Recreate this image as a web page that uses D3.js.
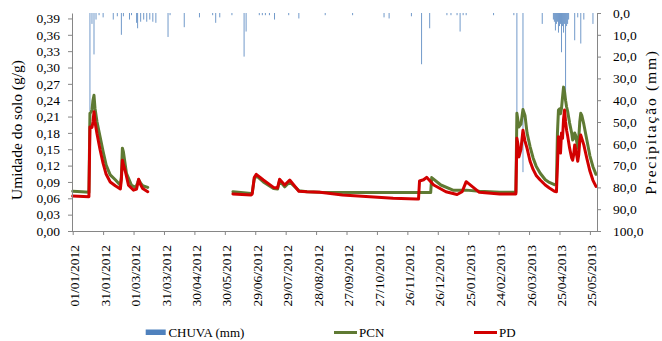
<!DOCTYPE html>
<html>
<head>
<meta charset="utf-8">
<script src="https://cdn.jsdelivr.net/npm/d3@7"></script>
<style>
  html, body { margin: 0; padding: 0; background: #fff; }
  svg { display: block; }
</style>
</head>
<body>
<svg id="chart" width="662" height="341"></svg>
<script>
// ---------- DATA ----------
const xTickLabels = ["01/01/2012","31/01/2012","01/03/2012","31/03/2012","30/04/2012","30/05/2012",
  "29/06/2012","29/07/2012","28/08/2012","27/09/2012","27/10/2012","26/11/2012","26/12/2012",
  "25/01/2013","24/02/2013","26/03/2013","25/04/2013","25/05/2013"];
const leftTicks = [0,0.03,0.06,0.09,0.12,0.15,0.18,0.21,0.24,0.27,0.30,0.33,0.36,0.39];
const rightTicks = [0,10,20,30,40,50,60,70,80,90,100];

// daily rainfall (mm)
const rain = [
  ["2012-01-18",45],["2012-01-20",5],["2012-01-22",19],["2012-01-24",3],["2012-01-27",1],
  ["2012-01-31",2],["2012-02-10",3],["2012-02-14",1.5],["2012-02-18",10],["2012-02-20",1.5],
  ["2012-02-26",3],["2012-02-28",1],["2012-03-04",4.5],["2012-03-05",7],["2012-03-08",4],
  ["2012-03-11",3],["2012-03-14",4],["2012-03-17",3],["2012-03-20",4],["2012-03-23",4.5],
  ["2012-04-04",11],["2012-04-06",1],["2012-04-20",6.5],["2012-05-05",2],["2012-05-18",1],
  ["2012-05-21",4.5],["2012-05-25",2],["2012-06-06",1],["2012-06-18",20],["2012-06-20",8.5],
  ["2012-07-03",1],["2012-07-06",1],["2012-07-09",1],["2012-07-13",1],["2012-07-18",3],
  ["2012-08-01",1],["2012-08-11",2.5],["2012-09-06",1],["2012-10-03",1],["2012-11-03",2],
  ["2012-11-08",2.5],["2012-11-30",1.5],["2012-12-10",23.5],["2012-12-18",7],
  ["2013-01-04",1],["2013-01-08",1],["2013-01-14",1],["2013-01-17",8.5],["2013-01-20",1],
  ["2013-01-23",1],["2013-02-19",1],["2013-03-11",1],["2013-03-14",50],["2013-03-20",73],
  ["2013-04-08",5],["2013-04-19",3],["2013-04-20",4],["2013-04-21",8],["2013-04-22",5],
  ["2013-04-23",4],["2013-04-24",9],["2013-04-25",6],["2013-04-26",5],["2013-04-27",18],
  ["2013-04-28",6],["2013-04-29",9],["2013-04-30",5],["2013-05-01",40],["2013-05-02",6],
  ["2013-05-03",5],["2013-05-04",3],["2013-05-10",12.5],["2013-05-13",2],["2013-05-16",14],
  ["2013-05-19",3],["2013-05-28",5]
];

// soil moisture PCN (g/g); null = no data
const pcn = [
  ["2012-01-01",0.073],["2012-01-10",0.072],["2012-01-17",0.071],["2012-01-18",0.216],
  ["2012-01-19",0.218],["2012-01-20",0.222],["2012-01-21",0.240],["2012-01-22",0.249],
  ["2012-01-23",0.225],["2012-01-25",0.200],["2012-01-28",0.173],["2012-01-31",0.146],
  ["2012-02-03",0.121],["2012-02-07",0.103],["2012-02-12",0.094],["2012-02-17",0.084],
  ["2012-02-18",0.100],["2012-02-19",0.152],["2012-02-20",0.145],["2012-02-23",0.106],
  ["2012-02-28",0.084],["2012-03-03",0.080],["2012-03-05",0.088],["2012-03-06",0.094],
  ["2012-03-08",0.088],["2012-03-10",0.083],["2012-03-15",0.080],
  ["2012-04-15",null],
  ["2012-06-07",0.072],["2012-06-25",0.069],["2012-06-26",0.070],["2012-06-28",0.095],
  ["2012-06-30",0.1015],["2012-07-07",0.090],["2012-07-17",0.078],["2012-07-21",0.077],
  ["2012-07-23",0.092],["2012-07-28",0.081],["2012-08-02",0.090],["2012-08-11",0.074],
  ["2012-08-19",0.072],["2012-09-01",0.071],["2012-10-15",0.0705],["2012-11-20",0.0705],
  ["2012-12-19",0.0705],["2012-12-20",0.098],["2012-12-29",0.0844],["2013-01-10",0.075],
  ["2013-01-23",0.075],["2013-02-05",0.073],["2013-02-25",0.071],["2013-03-13",0.071],
  ["2013-03-14",0.216],["2013-03-16",0.191],["2013-03-18",0.196],["2013-03-20",0.223],
  ["2013-03-22",0.212],["2013-03-24",0.180],["2013-03-27",0.155],["2013-03-30",0.134],
  ["2013-04-02",0.119],["2013-04-06",0.106],["2013-04-11",0.094],["2013-04-15",0.089],
  ["2013-04-20",0.085],["2013-04-22",0.087],["2013-04-23",0.180],["2013-04-24",0.222],
  ["2013-04-25",0.224],["2013-04-26",0.215],["2013-04-27",0.225],["2013-04-28",0.245],
  ["2013-04-29",0.264],["2013-04-30",0.255],["2013-05-01",0.240],["2013-05-02",0.228],
  ["2013-05-03",0.220],["2013-05-05",0.198],["2013-05-07",0.180],["2013-05-08",0.167],
  ["2013-05-09",0.170],["2013-05-10",0.180],["2013-05-11",0.175],["2013-05-13",0.152],
  ["2013-05-14",0.170],["2013-05-15",0.200],["2013-05-16",0.216],["2013-05-17",0.212],
  ["2013-05-19",0.196],["2013-05-22",0.167],["2013-05-25",0.138],["2013-05-28",0.118],
  ["2013-05-31",0.104]
];

// soil moisture PD (g/g); null = no data
const pd = [
  ["2012-01-01",0.064],["2012-01-17",0.063],["2012-01-18",0.191],["2012-01-20",0.190],
  ["2012-01-21",0.200],["2012-01-22",0.219],["2012-01-23",0.200],["2012-01-25",0.178],
  ["2012-01-28",0.149],["2012-01-31",0.124],["2012-02-03",0.104],["2012-02-07",0.090],
  ["2012-02-12",0.083],["2012-02-17",0.077],["2012-02-18",0.095],["2012-02-19",0.130],
  ["2012-02-20",0.122],["2012-02-22",0.109],["2012-02-25",0.084],["2012-03-01",0.075],
  ["2012-03-04",0.077],["2012-03-06",0.095],["2012-03-08",0.085],["2012-03-10",0.078],
  ["2012-03-15",0.072],
  ["2012-04-15",null],
  ["2012-06-07",0.068],["2012-06-25",0.066],["2012-06-26",0.068],["2012-06-28",0.098],
  ["2012-06-30",0.104],["2012-07-07",0.0936],["2012-07-17",0.080],["2012-07-21",0.079],
  ["2012-07-23",0.095],["2012-07-28",0.0844],["2012-08-02",0.0936],["2012-08-11",0.073],
  ["2012-08-19",0.072],["2012-09-01",0.071],["2012-09-23",0.066],["2012-10-20",0.063],
  ["2012-11-12",0.060],["2012-12-05",0.0587],["2012-12-07",0.0585],["2012-12-08",0.0917],
  ["2012-12-12",0.094],["2012-12-15",0.0985],["2012-12-22",0.0844],["2013-01-03",0.072],
  ["2013-01-14",0.067],["2013-01-19",0.072],["2013-01-23",0.0905],["2013-01-30",0.080],
  ["2013-02-05",0.071],["2013-02-25",0.068],["2013-03-13",0.068],
  ["2013-03-14",0.170],["2013-03-15",0.160],["2013-03-16",0.136],["2013-03-18",0.150],
  ["2013-03-20",0.185],["2013-03-22",0.165],["2013-03-24",0.152],["2013-03-27",0.128],
  ["2013-03-30",0.113],["2013-04-02",0.102],["2013-04-06",0.0936],["2013-04-11",0.0844],
  ["2013-04-15",0.079],["2013-04-20",0.073],["2013-04-22",0.072],["2013-04-23",0.120],
  ["2013-04-24",0.173],["2013-04-25",0.150],["2013-04-26",0.143],["2013-04-27",0.180],
  ["2013-04-28",0.170],["2013-04-29",0.205],["2013-04-30",0.222],["2013-05-01",0.200],
  ["2013-05-02",0.185],["2013-05-03",0.175],["2013-05-05",0.152],["2013-05-07",0.134],
  ["2013-05-08",0.130],["2013-05-09",0.140],["2013-05-10",0.158],["2013-05-11",0.150],
  ["2013-05-13",0.128],["2013-05-14",0.140],["2013-05-15",0.165],["2013-05-16",0.176],
  ["2013-05-17",0.170],["2013-05-19",0.158],["2013-05-22",0.133],["2013-05-25",0.110],
  ["2013-05-28",0.093],["2013-05-31",0.082]
];

const legendItems = [
  {label: "CHUVA (mm)", type: "bar"},
  {label: "PCN", type: "line"},
  {label: "PD", type: "line"}
];

// ---------- DRAW ----------
const COL_RAIN = "#4F81BD", COL_PCN = "#5F7A33", COL_PD = "#D20000", COL_AXIS = "#868686";
const FONT = "'Liberation Serif'";
const parseISO = d3.utcParse("%Y-%m-%d");
const parseLbl = d3.utcParse("%d/%m/%Y");
const svg = d3.select("#chart");
svg.append("rect").attr("width", 662).attr("height", 341).attr("fill", "#fff");

const x = d3.scaleUtc().domain([parseISO("2012-01-01"), parseISO("2013-06-01")]).range([72.7, 597]);
const yL = d3.scaleLinear().domain([0, 0.40]).range([231, 13]);
const yR = d3.scaleLinear().domain([0, 100]).range([13, 231]);
const fmtComma = (p) => (v) => d3.format("." + p + "f")(v).replace(".", ",");

// rain bars hanging from top
svg.append("g").attr("fill", COL_RAIN).attr("fill-opacity", 0.8)
  .selectAll("rect").data(rain).join("rect")
  .attr("x", d => x(parseISO(d[0])) - 0.5)
  .attr("width", 1.0)
  .attr("y", yR(0))
  .attr("height", d => yR(d[1]) - yR(0));

// lines
const line = d3.line()
  .defined(d => d[1] != null)
  .x(d => x(parseISO(d[0])))
  .y(d => yL(d[1]));
svg.append("path").datum(pcn).attr("d", line).attr("fill", "none")
  .attr("stroke", COL_PCN).attr("stroke-width", 3).attr("stroke-linejoin", "round").attr("stroke-linecap", "round");
svg.append("path").datum(pd).attr("d", line).attr("fill", "none")
  .attr("stroke", COL_PD).attr("stroke-width", 3).attr("stroke-linejoin", "round").attr("stroke-linecap", "round");

// left axis
const gL = svg.append("g").attr("transform", "translate(72,0)")
  .call(d3.axisLeft(yL).tickValues(leftTicks).tickSize(4).tickSizeOuter(0).tickPadding(8).tickFormat(fmtComma(2)));
// right axis
const gR = svg.append("g").attr("transform", "translate(597,0)")
  .call(d3.axisRight(yR).tickValues(rightTicks).tickSize(4).tickSizeOuter(0).tickPadding(12).tickFormat(fmtComma(1)));
// bottom axis
const xTickDates = xTickLabels.map(parseLbl);
const gB = svg.append("g").attr("transform", "translate(0,231)")
  .call(d3.axisBottom(x).tickValues(xTickDates).tickSize(4).tickSizeOuter(0).tickFormat((d, i) => xTickLabels[i]));
gB.select(".domain").attr("d", "M72,0.5H597");
gB.selectAll(".tick text")
  .attr("transform", "rotate(-90)")
  .attr("text-anchor", "end")
  .attr("x", -14).attr("y", 0).attr("dy", "0.45em");

[gL, gR, gB].forEach(g => {
  g.attr("font-family", null).attr("font-size", null);
  g.selectAll(".domain").attr("stroke", COL_AXIS);
  g.selectAll(".tick line").attr("stroke", COL_AXIS);
  g.selectAll(".tick text").attr("fill", "#000").style("font-size", "13.5px").style("font-family", FONT);
});

// axis titles
svg.append("text").attr("transform", "translate(21.5,130) rotate(-90)")
  .attr("text-anchor", "middle").style("font-family", FONT).style("font-size", "15.5px")
  .text("Umidade do solo (g/g)");
svg.append("text").attr("transform", "translate(656,122) rotate(-90)")
  .attr("text-anchor", "middle").style("font-family", FONT).style("font-size", "15.5px")
  .style("letter-spacing", "1.8px").text("Precipitação (mm)");

// legend
const legX = [145.7, 334, 474];
const legCol = [COL_RAIN, COL_PCN, COL_PD];
const lg = svg.append("g");
legendItems.forEach((it, i) => {
  if (it.type === "bar") {
    lg.append("rect").attr("x", legX[i]).attr("y", 329.5).attr("width", 20).attr("height", 5.5).attr("fill", legCol[i]);
  } else {
    lg.append("line").attr("x1", legX[i]).attr("x2", legX[i] + 23).attr("y1", 332.5).attr("y2", 332.5)
      .attr("stroke", legCol[i]).attr("stroke-width", 3);
  }
  lg.append("text").attr("x", legX[i] + (it.type === "bar" ? 22.7 : 25)).attr("y", 332.5).attr("dy", "0.35em")
    .style("font-family", FONT).style("font-size", "13px").text(it.label);
});
</script>
</body>
</html>
